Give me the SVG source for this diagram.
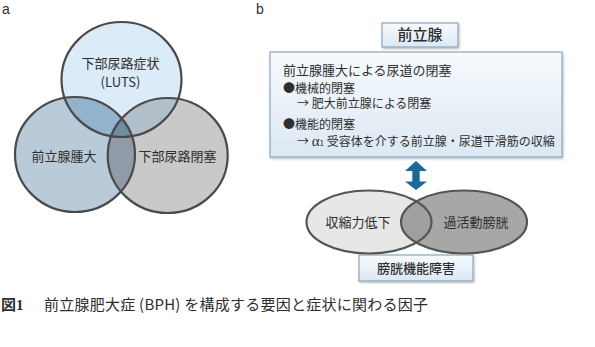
<svg xmlns="http://www.w3.org/2000/svg" width="595" height="347" viewBox="0 0 595 347">
<style>
text{font-family:"Noto Sans CJK JP","Noto Sans",sans-serif;fill:#2e2e2e;}
.lbl{font-size:13px;text-anchor:middle;}
.box{stroke:#8aa6be;stroke-width:1.2;fill:url(#bg);}
.vs{fill:none;stroke:#4a4a4a;stroke-width:2.2;}
.body{font-size:12px;}
</style>
<defs>
<linearGradient id="bg" x1="0" y1="0" x2="0" y2="1">
<stop offset="0" stop-color="#f7fafd"/>
<stop offset="1" stop-color="#dce8f3"/>
</linearGradient>
<filter id="sh" x="-5%" y="-5%" width="110%" height="115%">
<feDropShadow dx="1" dy="1.5" stdDeviation="1" flood-color="#000" flood-opacity="0.25"/>
</filter>
<clipPath id="cT"><ellipse cx="121.5" cy="79.5" rx="60" ry="57.5"/></clipPath>
<clipPath id="cL"><ellipse cx="75" cy="154.5" rx="60" ry="57.5"/></clipPath>
<clipPath id="eL"><ellipse cx="369" cy="222" rx="62.5" ry="31.5"/></clipPath>
</defs>

<text x="2" y="14" style="font-size:14px;font-family:'Liberation Sans',sans-serif">a</text>
<text x="256" y="14" style="font-size:14px;font-family:'Liberation Sans',sans-serif">b</text>

<g id="venn-a">
<ellipse cx="121.5" cy="79.5" rx="60" ry="57.5" fill="#dbebf8"/>
<ellipse cx="75" cy="154.5" rx="60" ry="57.5" fill="#b9cad9"/>
<ellipse cx="167.7" cy="155.5" rx="60" ry="57.5" fill="#c9c9c9"/>
<g clip-path="url(#cT)">
<ellipse cx="75" cy="154.5" rx="60" ry="57.5" fill="#93b3cd"/>
<ellipse cx="167.7" cy="155.5" rx="60" ry="57.5" fill="#b1bfcb"/>
</g>
<g clip-path="url(#cL)">
<ellipse cx="167.7" cy="155.5" rx="60" ry="57.5" fill="#8f9ca7"/>
</g>
<g clip-path="url(#cT)"><g clip-path="url(#cL)">
<ellipse cx="167.7" cy="155.5" rx="60" ry="57.5" fill="#6f8da2"/>
</g></g>
<ellipse class="vs" cx="121.5" cy="79.5" rx="60" ry="57.5"/>
<ellipse class="vs" cx="75" cy="154.5" rx="60" ry="57.5"/>
<ellipse class="vs" cx="167.7" cy="155.5" rx="60" ry="57.5"/>
</g>
<g id="luts"><text class="lbl" x="120.5" y="68">下部尿路症状</text><text class="lbl" x="120.5" y="86.5">(LUTS)</text></g>
<g id="bpe"><text class="lbl" x="64" y="160.5">前立腺腫大</text></g>
<g id="bod"><text class="lbl" x="177.5" y="160.5">下部尿路閉塞</text></g>

<g id="prostate">
<rect class="box" x="382" y="23" width="76" height="24" filter="url(#sh)"/>
<text x="420" y="40" style="font-size:15px;font-weight:500;text-anchor:middle">前立腺</text>
</g>
<g id="obstruction">
<rect class="box" x="270" y="52" width="292" height="105" filter="url(#sh)"/>
<text x="283" y="75" style="font-size:13px">前立腺腫大による尿道の閉塞</text>
<text class="body" x="283" y="92.8">●機械的閉塞</text>
<text class="body" x="297" y="108">→ 肥大前立腺による閉塞</text>
<text class="body" x="283" y="128.5">●機能的閉塞</text>
<text class="body" x="297" y="146">→ <tspan style="font-family:'Liberation Serif',serif;font-size:15px">α</tspan><tspan style="font-size:8px">1</tspan> 受容体を介する前立腺・尿道平滑筋の収縮</text>
</g>

<g id="connectors">
<polygon points="416,161 427,171 419.7,171 419.7,181.5 427,181.5 416,190 405,181.5 412.3,181.5 412.3,171 405,171" fill="#1c6896"/>
</g>

<g id="bladder">
<rect class="box" x="359" y="255" width="114" height="26" filter="url(#sh)"/>
<text x="416" y="273" style="font-size:13px;font-weight:500;text-anchor:middle">膀胱機能障害</text>
</g>
<g id="venn-b">
<ellipse cx="369" cy="222" rx="62.5" ry="31.5" fill="#e7e7e7"/>
<ellipse cx="464" cy="222" rx="63" ry="31.5" fill="#a7a7a7"/>
<g clip-path="url(#eL)"><ellipse cx="464" cy="222" rx="63" ry="31.5" fill="#a0a0a0"/></g>
<ellipse class="vs" cx="369" cy="222" rx="62.5" ry="31.5" style="stroke:#555"/>
<ellipse class="vs" cx="464" cy="222" rx="63" ry="31.5" style="stroke:#555"/>
</g>
<g id="underactive"><text class="lbl" x="358" y="227">収縮力低下</text></g>
<g id="oab"><text class="lbl" x="476" y="227">過活動膀胱</text></g>

<g id="caption">
<text x="1" y="310" style="font-size:15px;font-weight:bold">図<tspan style="font-family:'Liberation Serif',serif">1</tspan></text>
<text x="44" y="310" style="font-size:15px" textLength="384">前立腺肥大症 (BPH) を構成する要因と症状に関わる因子</text>
</g>
</svg>
